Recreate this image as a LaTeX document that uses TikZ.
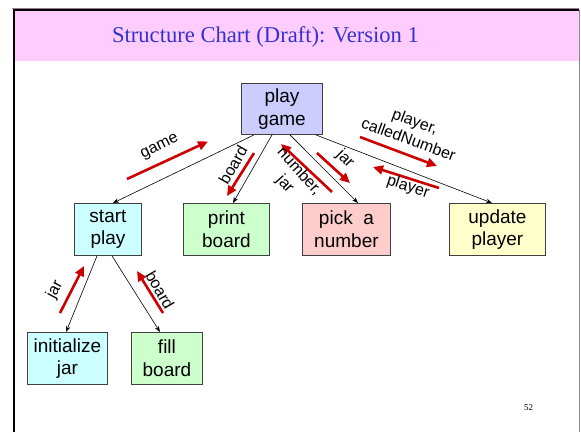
\documentclass[tikz,border=0pt]{standalone}
\usepackage{fontspec}
\setmainfont{Liberation Serif}
\newfontfamily\arialfont{Liberation Sans}
\usetikzlibrary{arrows.meta}
\definecolor{titleblue}{RGB}{51,51,204}
\definecolor{bandpink}{RGB}{255,204,255}
\definecolor{flowred}{RGB}{204,0,0}
\definecolor{cLav}{RGB}{204,204,255}
\definecolor{cCyan}{RGB}{204,255,255}
\definecolor{cGreen}{RGB}{204,255,204}
\definecolor{cPink}{RGB}{255,204,204}
\definecolor{cYellow}{RGB}{255,255,204}
\tikzset{
  modbox/.style={draw=black!75, line width=0.9pt, inner sep=0pt, align=center,
    font=\arialfont\fontsize{19}{22.5}\selectfont, anchor=north west},
  call/.style={draw=black, line width=0.6pt, -{Stealth[length=6pt,width=4.5pt]}},
  flow/.style={draw=flowred, line width=2.6pt, -{Triangle[length=10pt,width=9pt]}},
  flowlbl/.style={font=\arialfont\fontsize{16}{19}\selectfont, align=center, inner sep=0pt}
}
\begin{document}
\begin{tikzpicture}[x=1pt,y=-1pt]
\useasboundingbox (0,0) rectangle (581,432);
\fill[white] (0,0) rectangle (581,432);
% band and frame
\fill[bandpink] (13,10) rectangle (579,61);
\draw[color=bandpink!60!black, line width=0.6pt] (12,8.3) -- (579,8.3);
\draw[black, line width=2pt] (13.5,432) -- (13.5,10) -- (579,10);
\draw[black!45, line width=0.8pt] (579.5,10) -- (579.5,432);
\node[titleblue, font=\fontsize{22.6}{26}\selectfont] (title) at (265.5,37) {Structure Chart (Draft): Version 1};
\node[font=\fontsize{9}{10}\selectfont] (pnum) at (528.5,408) {52};
% modules
\node[modbox, fill=cLav, minimum width=81pt, minimum height=51pt] (play) at (241,83) {play\\game};
\node[modbox, fill=cCyan, minimum width=67pt, minimum height=52pt] (start) at (74,203) {start\\play};
\node[modbox, fill=cGreen, minimum width=86pt, minimum height=52pt] (print) at (183,203) {print\\board};
\node[modbox, fill=cPink, minimum width=88pt, minimum height=52pt] (pick) at (302,203) {pick\ \ a\\number};
\node[modbox, fill=cYellow, minimum width=96pt, minimum height=52pt] (update) at (449,203) {update\\player};
\node[modbox, fill=cCyan, minimum width=80pt, minimum height=52pt] (init) at (27,332) {initialize\\jar};
\node[modbox, fill=cGreen, minimum width=71pt, minimum height=52pt] (fill) at (131,332) {fill\\board};
% calls
\draw[call] ([xshift=13pt]play.south west) -- ([xshift=39pt]start.north west);
\draw[call] ([xshift=31pt]play.south west) -- ([xshift=50pt]print.north west);
\draw[call] ([xshift=49pt]play.south west) -- ([xshift=56pt]pick.north west);
\draw[call] ([xshift=-7pt]play.south east) -- ([xshift=43pt]update.north west);
\draw[call] ([xshift=23pt]start.south west) -- ([xshift=39pt]init.north west);
\draw[call] ([xshift=38pt]start.south west) -- ([xshift=29pt]fill.north west);
% data flows
\coordinate (g1) at (127,179); \coordinate (g2) at (208,141.5);
\draw[flow] (g1) -- (g2);
\node[flowlbl, rotate=26] (lgame) at (160,147) {game};
\coordinate (b1) at (254,153); \coordinate (b2) at (227,196);
\draw[flow] (b1) -- (b2);
\node[flowlbl, rotate=60] (lboard) at (233,165) {board};
\coordinate (n1) at (332,192); \coordinate (n2) at (281,144);
\draw[flow] (n1) -- (n2);
\node[flowlbl, rotate=-48] (lnum) at (292,178) {number,\\jar};
\coordinate (j1) at (317,153); \coordinate (j2) at (350,183);
\draw[flow] (j1) -- (j2);
\node[flowlbl, rotate=-45] (ljar) at (345,159) {jar};
\coordinate (p1) at (360,137); \coordinate (p2) at (437,166);
\draw[flow] (p1) -- (p2);
\node[flowlbl, rotate=-20] (lpc) at (412,130) {player,\\calledNumber};
\coordinate (q1) at (439,188); \coordinate (q2) at (373,167);
\draw[flow] (q1) -- (q2);
\node[flowlbl, rotate=-18] (lpl) at (408,187) {player};
\coordinate (r1) at (60,313); \coordinate (r2) at (84,266);
\draw[flow] (r1) -- (r2);
\node[flowlbl, rotate=62] (ljar2) at (55,290) {jar};
\coordinate (s1) at (163,313); \coordinate (s2) at (137,271);
\draw[flow] (s1) -- (s2);
\node[flowlbl, rotate=-60] (lboard2) at (160,290) {board};
\end{tikzpicture}
\end{document}
